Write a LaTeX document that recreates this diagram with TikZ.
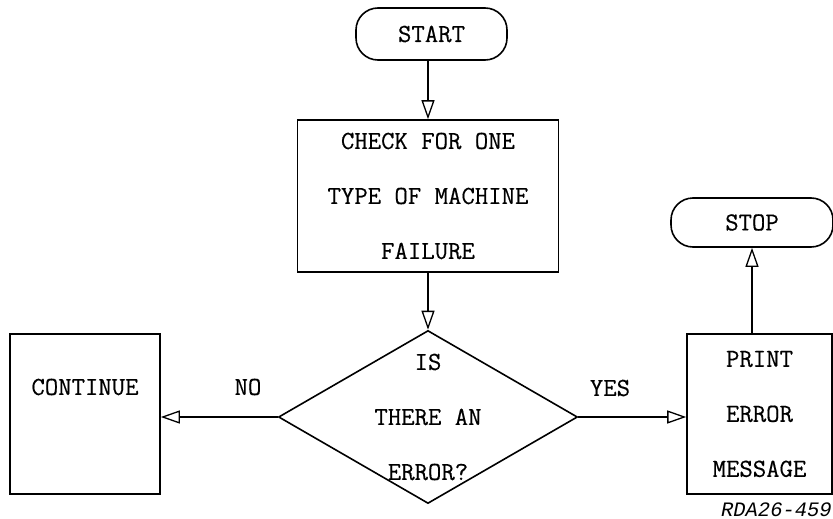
\documentclass[tikz,border=0pt]{standalone}
\usepackage{fontspec}
\setmonofont[FakeBold=0.4]{Latin Modern Mono}
\newfontfamily\tagfont{Liberation Mono}
\usetikzlibrary{shapes.geometric,arrows.meta}

\begin{document}
\begin{tikzpicture}[x=1pt,y=-1pt,
  flow/.style={draw, line width=1.6pt},
  txt/.style={font=\ttfamily\fontsize{26}{55}\selectfont, align=center, inner sep=0},
  term/.style={flow, txt, rectangle, rounded corners=22pt, minimum width=151pt, minimum height=52pt},
  proc/.style={flow, txt, rectangle},
  decision/.style={flow, diamond, inner sep=0},
  link/.style={line width=1.6pt, -{Triangle[open, length=19pt, width=13pt, line width=1.3pt]}},
  tagtext/.style={font=\tagfont\itshape\fontsize{20.5}{20.5}\selectfont, inner sep=0}
]
\useasboundingbox (0,0) rectangle (833,519);

% terminals
\node[term] (start) at (431.5,34) {START};
\node[term, minimum width=162pt, minimum height=49pt] (stop) at (752,222.5) {STOP};

% process boxes
\node[proc, minimum width=261pt, minimum height=152pt] (check) at (428,196)
  {CHECK FOR ONE\\TYPE OF MACHINE\\FAILURE};
\node[proc, minimum width=150pt, minimum height=160pt] (cont) at (85,414) {};
\node[txt] (contt) at (85,387) {CONTINUE};
\node[proc, minimum width=145pt, minimum height=160pt] (print) at (759.5,414)
  {PRINT\\ERROR\\MESSAGE};

% decision
\node[decision, minimum width=299pt, minimum height=173pt] (ask) at (428,417) {};
\node[txt] (askt) at (ask.center) {IS\\THERE AN\\ERROR?};

% branch labels
\node[txt] (no) at (248,387) {NO};
\node[txt] (yes) at (610,388) {YES};

% drawing number
\node[tagtext, anchor=east] (tag) at (832,510) {RDA26-459};

% connectors
\draw[link] (check.north |- start.south) -- (check.north);
\draw[link] (check.south) -- (ask.north);
\draw[link] (ask.west) -- (ask.west -| cont.east);
\draw[link] (ask.east) -- (ask.east -| print.west);
\draw[link] (print.north -| stop.south) -- (stop.south);
\end{tikzpicture}
\end{document}
